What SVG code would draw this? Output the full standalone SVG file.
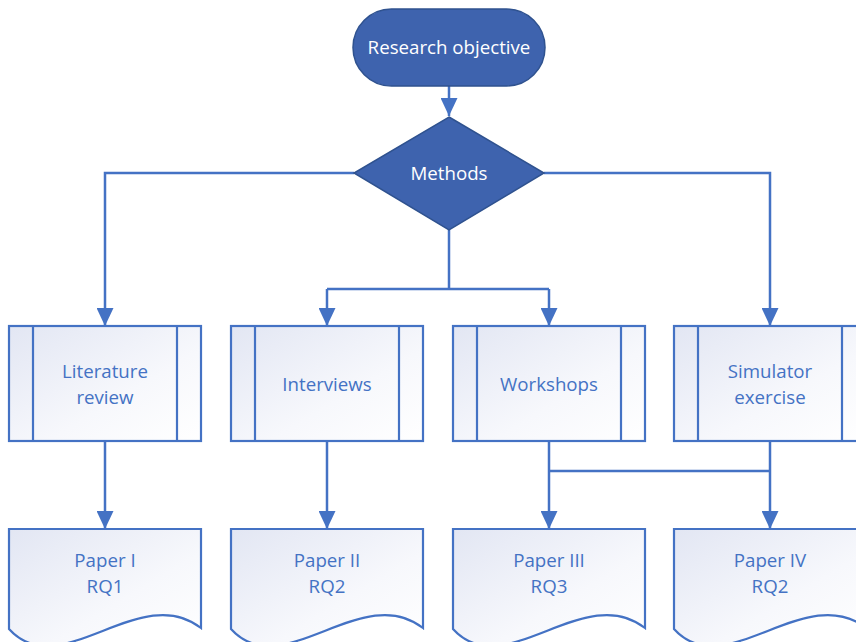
<svg xmlns="http://www.w3.org/2000/svg" width="856" height="642" viewBox="0 0 856 642">
  <defs>
    <linearGradient id="paleFill" x1="0" y1="0" x2="1" y2="1">
      <stop offset="0" stop-color="#E2E6F3"/>
      <stop offset="0.6" stop-color="#F7F8FC"/>
      <stop offset="1" stop-color="#FFFFFF"/>
    </linearGradient>
    <marker id="arrow" viewBox="0 0 18 17" refX="18" refY="8.5" markerWidth="18" markerHeight="17" markerUnits="userSpaceOnUse" orient="auto">
      <path d="M0,0 L18,8.5 L0,17 Z" fill="#4472C4"/>
    </marker>
    <style>
      .dark { fill: #3E63AE; stroke: #2F528F; stroke-width: 1.5; }
      .box { fill: url(#paleFill); stroke: #4472C4; stroke-width: 2.2; }
      .bar { fill: none; stroke: #4472C4; stroke-width: 2.2; }
      .wt { fill: #FFFFFF; font-family: "Open Sans", "Liberation Sans", sans-serif; font-size: 18.7px; text-anchor: middle; dominant-baseline: central; }
      .bt { fill: #4472C4; font-family: "Open Sans", "Liberation Sans", sans-serif; font-size: 18.7px; text-anchor: middle; dominant-baseline: central; }
      .link { fill: none; stroke: #4472C4; stroke-width: 2.5; }
    </style>
  </defs>

  <g id="connectors">
    <path class="link" d="M449,86 V116" marker-end="url(#arrow)"/>
    <path class="link" d="M354,173 H105 V326" marker-end="url(#arrow)"/>
    <path class="link" d="M544,173 H770 V326" marker-end="url(#arrow)"/>
    <path class="link" d="M449,230 V289"/>
    <path class="link" d="M327,289 H549"/>
    <path class="link" d="M327,289 V326" marker-end="url(#arrow)"/>
    <path class="link" d="M549,289 V326" marker-end="url(#arrow)"/>
    <path class="link" d="M105,441 V529" marker-end="url(#arrow)"/>
    <path class="link" d="M327,441 V529" marker-end="url(#arrow)"/>
    <path class="link" d="M549,441 V529" marker-end="url(#arrow)"/>
    <path class="link" d="M770,441 V529" marker-end="url(#arrow)"/>
    <path class="link" d="M549,471 H770"/>
  </g>

  <g id="objective">
    <rect class="dark" x="353" y="9" width="192" height="77" rx="38.5" ry="38.5"/>
    <text class="wt" x="449" y="46.5">Research objective</text>
  </g>

  <g id="methods">
    <path class="dark" d="M449,117 L544,173 L449,230 L354,173 Z"/>
    <text class="wt" x="449" y="172.5">Methods</text>
  </g>

  <g id="literature">
    <rect class="box" x="9" y="326" width="192" height="115"/>
    <path class="bar" d="M33,326 V441 M177,326 V441"/>
    <text class="bt" x="105" y="370.5">Literature</text>
    <text class="bt" x="105" y="396.5">review</text>
  </g>

  <g id="interviews">
    <rect class="box" x="231" y="326" width="192" height="115"/>
    <path class="bar" d="M255,326 V441 M399,326 V441"/>
    <text class="bt" x="327" y="383.5">Interviews</text>
  </g>

  <g id="workshops">
    <rect class="box" x="453" y="326" width="192" height="115"/>
    <path class="bar" d="M477,326 V441 M621,326 V441"/>
    <text class="bt" x="549" y="383.5">Workshops</text>
  </g>

  <g id="simulator">
    <rect class="box" x="674" y="326" width="192" height="115"/>
    <path class="bar" d="M698,326 V441 M842,326 V441"/>
    <text class="bt" x="770" y="370.5">Simulator</text>
    <text class="bt" x="770" y="396.5">exercise</text>
  </g>

  <g id="paper1">
    <path class="box" d="M9,529 H201 V628 C140,580 60,685 9,629 Z"/>
    <text class="bt" x="105" y="559.5">Paper I</text>
    <text class="bt" x="105" y="585.5">RQ1</text>
  </g>

  <g id="paper2">
    <path class="box" d="M231,529 H423 V628 C362,580 282,685 231,629 Z"/>
    <text class="bt" x="327" y="559.5">Paper II</text>
    <text class="bt" x="327" y="585.5">RQ2</text>
  </g>

  <g id="paper3">
    <path class="box" d="M453,529 H645 V628 C584,580 504,685 453,629 Z"/>
    <text class="bt" x="549" y="559.5">Paper III</text>
    <text class="bt" x="549" y="585.5">RQ3</text>
  </g>

  <g id="paper4">
    <path class="box" d="M674,529 H866 V628 C805,580 725,685 674,629 Z"/>
    <text class="bt" x="770" y="559.5">Paper IV</text>
    <text class="bt" x="770" y="585.5">RQ2</text>
  </g>
</svg>
